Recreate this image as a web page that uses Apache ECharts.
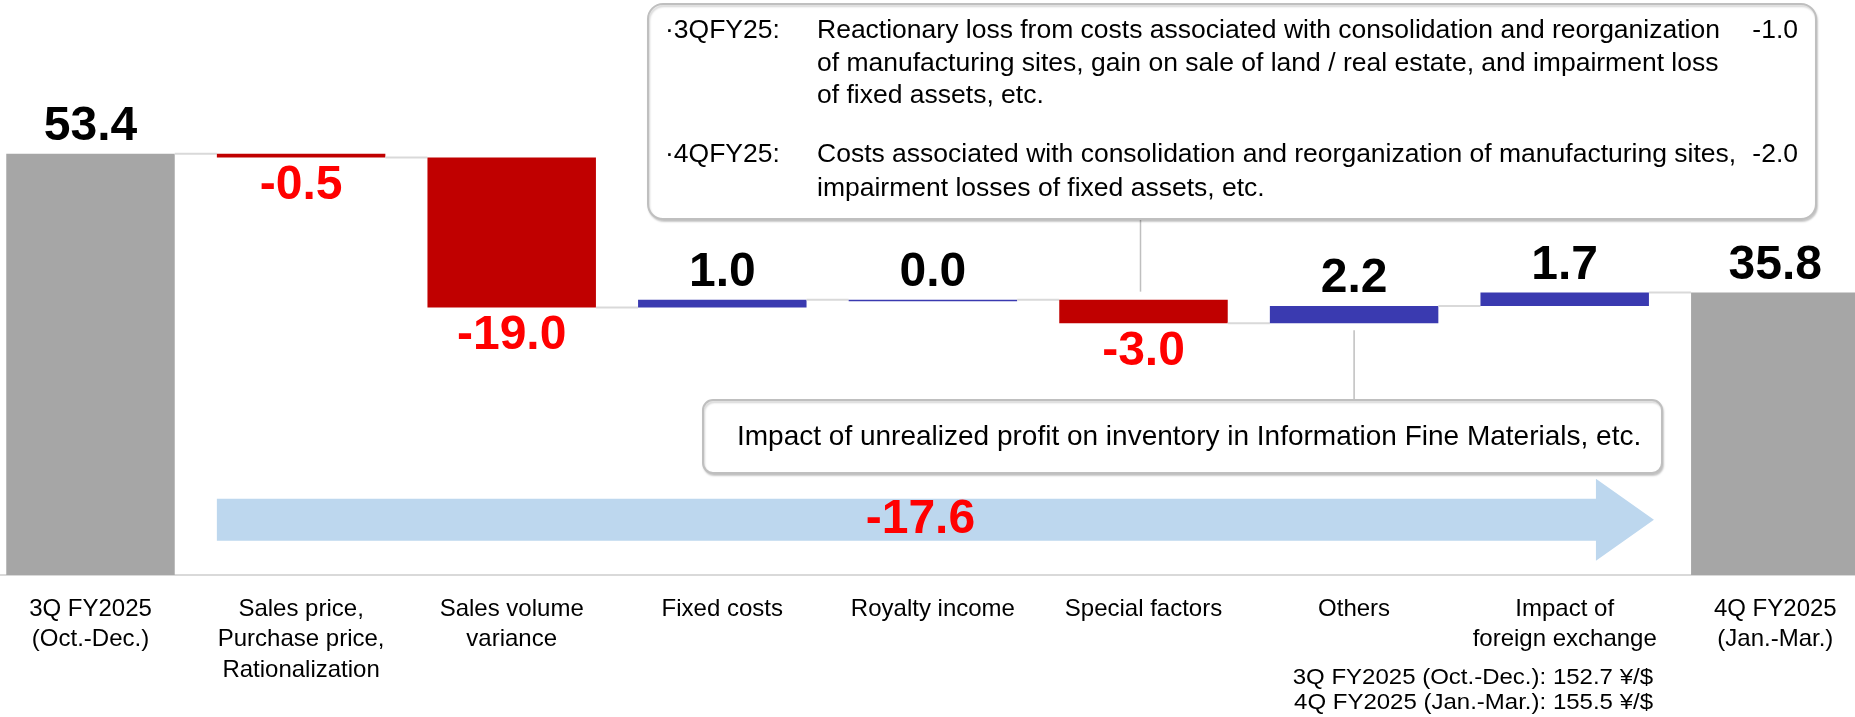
<!DOCTYPE html>
<html>
<head>
<meta charset="utf-8">
<script src="https://cdn.jsdelivr.net/npm/echarts@6/dist/echarts.min.js"></script>
<style>
  html, body { margin: 0; padding: 0; background: #fff; }
  #chart { width: 1855px; height: 717px; }
</style>
</head>
<body>
<div id="chart"></div>
<script>
// data
var categories = ['3Q FY2025\n(Oct.-Dec.)', 'Sales price,\nPurchase price,\nRationalization', 'Sales volume\nvariance',
  'Fixed costs', 'Royalty income', 'Special factors', 'Others', 'Impact of\nforeign exchange', '4Q FY2025\n(Jan.-Mar.)'];
var startTotal = 53.4;
var changes = [-0.5, -19.0, 1.0, 0.0, -3.0, 2.2, 1.7];
var endTotal = 35.8;
var totalChange = -17.6;
var arrowFrom = 1, arrowTo = 7, arrowLevel = 7.0;
var specialNotes = [
  ['·3QFY25:', 'Reactionary loss from costs associated with consolidation and reorganization', '-1.0'],
  ['', 'of manufacturing sites, gain on sale of land / real estate, and impairment loss', ''],
  ['', 'of fixed assets, etc.', ''],
  ['·4QFY25:', 'Costs associated with consolidation and reorganization of manufacturing sites,', '-2.0'],
  ['', 'impairment losses of fixed assets, etc.', '']
];
var othersNote = 'Impact of unrealized profit on inventory in Information Fine Materials, etc.';
var fxNotes = ['3Q FY2025 (Oct.-Dec.): 152.7 ¥/$', '4Q FY2025 (Jan.-Mar.): 155.5 ¥/$'];

var FONT = 'Liberation Sans, Arial, sans-serif';
var GRAY = '#a6a6a6', RED = '#c00000', BLUE = '#3a3ab0';

// waterfall rows: [x, low, high, value, isChange, levelAfter]
var rows = [[0, 0, startTotal, startTotal, 0, startTotal]];
var level = startTotal;
changes.forEach(function (d, k) {
  var next = Math.round((level + d) * 10) / 10;
  rows.push([k + 1, Math.min(level, next), Math.max(level, next), d, 1, next]);
  level = next;
});
rows.push([categories.length - 1, 0, endTotal, endTotal, 0, endTotal]);

function fmt(v) { return v.toFixed(1); }

var chart = echarts.init(document.getElementById('chart'));

function renderStep(params, api) {
  var i = api.value(0), lo = api.value(1), hi = api.value(2), val = api.value(3);
  var isChange = api.value(4), after = api.value(5);
  var band = api.size([1, 0])[0];
  var bw = band * 0.8;
  var top = api.coord([i, hi]), bot = api.coord([i, lo]);
  var h = Math.max(bot[1] - top[1], 1.5);
  var color = isChange ? (val < 0 ? RED : BLUE) : GRAY;
  var kids = [{
    type: 'rect',
    shape: { x: top[0] - bw / 2, y: top[1], width: bw, height: h },
    style: { fill: color }
  }];
  if (i < categories.length - 1) {
    var ly = api.coord([i, after])[1];
    kids.push({
      type: 'line',
      shape: { x1: top[0] + bw / 2, y1: ly, x2: top[0] + band - bw / 2, y2: ly },
      style: { stroke: '#d9d9d9', lineWidth: 2 }
    });
  }
  var neg = val < 0;
  kids.push({
    type: 'text',
    style: {
      text: fmt(val),
      x: top[0],
      y: neg ? bot[1] + 4 : top[1] - 3,
      align: 'center',
      verticalAlign: neg ? 'top' : 'bottom',
      fill: neg ? '#ff0000' : '#000',
      font: 'bold 48px ' + FONT
    }
  });
  return { type: 'group', children: kids };
}

function renderArrow(params, api) {
  var band = api.size([1, 0])[0];
  var bw = band * 0.8;
  var a = api.coord([api.value(0), api.value(2)]);
  var b = api.coord([api.value(1), api.value(2)]);
  var x0 = a[0] - bw / 2, x1 = b[0] + bw / 2 + 5, cy = a[1];
  var hb = x1 - 58;
  return {
    type: 'group',
    children: [{
      type: 'polygon',
      shape: { points: [[x0, cy - 21], [hb, cy - 21], [hb, cy - 41], [x1, cy], [hb, cy + 41], [hb, cy + 21], [x0, cy + 21]] },
      style: { fill: '#bdd7ee' }
    }, {
      type: 'text',
      style: {
        text: fmt(api.value(3)), x: (x0 + hb) / 2 + 14, y: cy,
        align: 'center', verticalAlign: 'middle',
        fill: '#ff0000', font: 'bold 48px ' + FONT
      }
    }]
  };
}

chart.setOption({
  animation: false,
  textStyle: { fontFamily: FONT },
  grid: { left: -14.8, width: 1895.4, top: 101.6, height: 473.4, outerBoundsMode: 'none' },
  xAxis: {
    type: 'category',
    data: categories,
    axisTick: { show: false },
    axisLine: { lineStyle: { color: '#d9d9d9', width: 2 } },
    axisLabel: { interval: 0, color: '#000', fontSize: 24, lineHeight: 30.5, margin: 19, fontFamily: FONT }
  },
  yAxis: { type: 'value', min: 0, max: 60, show: false },
  series: [{
    type: 'custom',
    renderItem: renderArrow,
    data: [[arrowFrom, arrowTo, arrowLevel, totalChange]],
    silent: true
  }, {
    type: 'custom',
    renderItem: renderStep,
    data: rows,
    silent: true
  }]
});

// annotation boxes and their leader lines
function txt(x, baseline, s, size, align, sx) {
  return {
    type: 'text',
    x: x, y: baseline - 0.3465 * size, scaleX: sx || 1,
    style: { text: s, x: 0, y: 0, align: align || 'left', verticalAlign: 'middle',
      fill: '#000', font: size + 'px ' + FONT }
  };
}
var specialTop = chart.convertToPixel({ gridIndex: 0 }, [5, rows[5][2]]);
var othersBot = chart.convertToPixel({ gridIndex: 0 }, [6, rows[6][1]]);
var els = [];
var boxStyle = { fill: '#fff', stroke: '#bfbfbf', lineWidth: 2,
  shadowColor: 'rgba(0,0,0,0.18)', shadowOffsetX: 1, shadowOffsetY: 2, shadowBlur: 2 };
els.push({ type: 'line', shape: { x1: specialTop[0] - 3, y1: 219, x2: specialTop[0] - 3, y2: specialTop[1] - 8 },
  style: { stroke: '#bfbfbf', lineWidth: 1.5 } });
els.push({ type: 'rect', shape: { x: 648, y: 4, width: 1168, height: 215, r: 15 }, style: boxStyle });
var baselines = [40, 73, 105, 164, 198];
specialNotes.forEach(function (ln, k) {
  if (ln[0]) els.push(txt(665, baselines[k], ln[0], 26.5));
  els.push(txt(817, baselines[k], ln[1], 26.5));
  if (ln[2]) els.push(txt(1798, baselines[k], ln[2], 26.5, 'right'));
});
els.push({ type: 'line', shape: { x1: othersBot[0], y1: othersBot[1] + 7, x2: othersBot[0], y2: 400 },
  style: { stroke: '#bfbfbf', lineWidth: 1.5 } });
els.push({ type: 'rect', shape: { x: 703, y: 400, width: 959, height: 73, r: 10 }, style: boxStyle });
els.push(txt(737, 447, othersNote, 28));
els.push(txt(1653, 686, fxNotes[0], 22.5, 'right', 1.067));
els.push(txt(1653, 711, fxNotes[1], 22.5, 'right', 1.067));
chart.setOption({ graphic: { elements: els } });
</script>
</body>
</html>
